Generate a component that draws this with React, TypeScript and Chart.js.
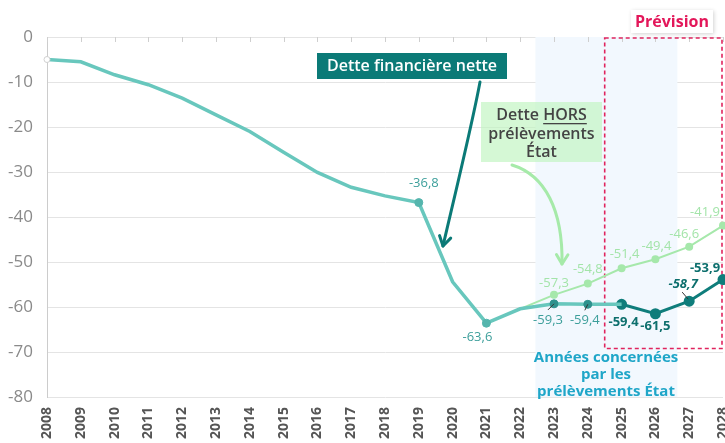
import React, { useEffect, useRef } from "react";
import { Chart, registerables } from "chart.js";

Chart.register(...registerables);

const FONT = "'Open Sans', sans-serif";

// ---- data ----
const years = [2008, 2009, 2010, 2011, 2012, 2013, 2014, 2015, 2016, 2017, 2018, 2019, 2020, 2021, 2022, 2023, 2024, 2025, 2026, 2027, 2028];
const netDebtYears = [2008, 2009, 2010, 2011, 2012, 2013, 2014, 2015, 2016, 2017, 2018, 2019, 2020, 2021, 2022, 2023, 2024, 2025];
const netDebt = [-5, -5.5, -8.4, -10.6, -13.6, -17.3, -21, -25.6, -30.1, -33.4, -35.3, -36.8, -54.4, -63.6, -60.4, -59.3, -59.4, -59.4];
const forecastYears = [2025, 2026, 2027, 2028];
const forecastDebt = [-59.4, -61.5, -58.7, -53.9];
const horsYears = [2022, 2023, 2024, 2025, 2026, 2027, 2028];
const horsDebt = [-60.4, -57.3, -54.8, -51.4, -49.4, -46.6, -41.9];
const yTicks = [0, -10, -20, -30, -40, -50, -60, -70, -80];

// ---- styles ----
const LIGHT_TEAL = "#68c7bd";
const DARK_TEAL = "#0f7d7b";
const GREEN = "#a6e8ab";
const TEAL_TXT = "#3d9f9b";
const DARK_TXT = "#0d6f6d";
const GREEN_TXT = "#a3e4a9";

const fmt = (v: number) => v.toFixed(1).replace(".", ",");

type Spec = { ds: number; year: number; dx: number; dy: number; color: string; font: string; leader?: number[] };
const normal = `13px ${FONT}`;
const bold = `bold 13px ${FONT}`;
const specs: Spec[] = [
  { ds: 0, year: 2019, dx: 5, dy: -19, color: TEAL_TXT, font: normal },
  { ds: 0, year: 2021, dx: -9, dy: 14, color: TEAL_TXT, font: normal },
  { ds: 0, year: 2023, dx: -6, dy: 16, color: TEAL_TXT, font: normal, leader: [0, 0, -6, 6] },
  { ds: 0, year: 2024, dx: -3, dy: 16, color: TEAL_TXT, font: normal, leader: [0, 0, -3, 6] },
  { ds: 1, year: 2025, dx: 2, dy: 18, color: DARK_TXT, font: bold },
  { ds: 1, year: 2026, dx: 0, dy: 13, color: DARK_TXT, font: bold },
  { ds: 1, year: 2027, dx: -6, dy: -17, color: DARK_TXT, font: `italic bold 13px ${FONT}`, leader: [-7, -9, -1, -2] },
  { ds: 1, year: 2028, dx: -18, dy: -11, color: DARK_TXT, font: bold },
  { ds: 2, year: 2023, dx: 0, dy: -12, color: GREEN_TXT, font: normal },
  { ds: 2, year: 2024, dx: 0, dy: -14, color: GREEN_TXT, font: normal },
  { ds: 2, year: 2025, dx: 3, dy: -14, color: GREEN_TXT, font: normal },
  { ds: 2, year: 2026, dx: 1, dy: -13, color: GREEN_TXT, font: normal },
  { ds: 2, year: 2027, dx: -5, dy: -12, color: GREEN_TXT, font: normal },
  { ds: 2, year: 2028, dx: -18, dy: -13, color: GREEN_TXT, font: normal },
];
const dsYears = [netDebtYears, forecastYears, horsYears];
const dsValues = [netDebt, forecastDebt, horsDebt];

function arrow(ctx: CanvasRenderingContext2D, pts: number[], color: string, width: number) {
  const [x0, y0, c1x, c1y, c2x, c2y, x1, y1] = pts;
  ctx.save();
  ctx.strokeStyle = color;
  ctx.lineWidth = width;
  ctx.lineCap = "round";
  ctx.lineJoin = "round";
  ctx.beginPath();
  ctx.moveTo(x0, y0);
  ctx.bezierCurveTo(c1x, c1y, c2x, c2y, x1, y1);
  ctx.stroke();
  const ang = Math.atan2(y1 - c2y, x1 - c2x);
  const L = 11;
  ctx.beginPath();
  ctx.moveTo(x1 + L * Math.cos(ang + Math.PI - 0.55), y1 + L * Math.sin(ang + Math.PI - 0.55));
  ctx.lineTo(x1, y1);
  ctx.lineTo(x1 + L * Math.cos(ang + Math.PI + 0.55), y1 + L * Math.sin(ang + Math.PI + 0.55));
  ctx.stroke();
  ctx.restore();
}

const overlay = {
  id: "overlay",
  beforeDatasetsDraw(chart: any) {
    const { ctx, chartArea: ca, scales } = chart;
    const x = scales.x, y = scales.y;
    ctx.save();
    // shaded years
    const sx0 = x.getPixelForValue(2022.45), sx1 = x.getPixelForValue(2026.65);
    ctx.fillStyle = "#f2f8fe";
    ctx.fillRect(sx0, ca.top, sx1 - sx0, ca.bottom - ca.top);
    // top tick marks
    ctx.strokeStyle = "#cfcfcf";
    ctx.lineWidth = 1;
    years.forEach((yr) => {
      const px = Math.round(x.getPixelForValue(yr)) + 0.5;
      ctx.beginPath();
      ctx.moveTo(px, ca.top);
      ctx.lineTo(px, ca.top + 5);
      ctx.stroke();
    });
    // forecast dashed box
    const bx0 = x.getPixelForValue(2024.5), bx1 = x.getPixelForValue(2028);
    const by0 = y.getPixelForValue(0), by1 = y.getPixelForValue(-69);
    ctx.strokeStyle = "#e0245e";
    ctx.lineWidth = 1.6;
    ctx.setLineDash([4, 3]);
    ctx.strokeRect(bx0, by0 + 1, bx1 - bx0 - 1, by1 - by0);
    ctx.setLineDash([]);
    ctx.restore();
  },
  afterDatasetsDraw(chart: any) {
    const { ctx } = chart;
    ctx.save();
    // data labels
    ctx.textAlign = "center";
    ctx.textBaseline = "middle";
    specs.forEach((s) => {
      const idx = dsYears[s.ds].indexOf(s.year);
      const pt = chart.getDatasetMeta(s.ds).data[idx];
      if (!pt) return;
      if (s.leader) {
        ctx.strokeStyle = "#333";
        ctx.lineWidth = 1;
        ctx.beginPath();
        ctx.moveTo(pt.x + s.leader[0], pt.y + s.leader[1]);
        ctx.lineTo(pt.x + s.leader[2], pt.y + s.leader[3]);
        ctx.stroke();
      }
      ctx.font = s.font;
      ctx.fillStyle = s.color;
      ctx.fillText(fmt(dsValues[s.ds][idx]), pt.x + s.dx, pt.y + s.dy);
    });

    // "Dette financière nette" callout
    arrow(ctx, [480, 82, 472, 125, 456, 190, 443, 246], "#0b7a77", 3);
    ctx.fillStyle = "#0b7a77";
    ctx.fillRect(317, 53, 190, 26);
    ctx.fillStyle = "#ffffff";
    ctx.font = `600 16px ${FONT}`;
    ctx.fillText("Dette financière nette", 412, 66.5);

    // "Dette HORS prélèvements État" callout
    ctx.fillStyle = "rgba(190, 244, 190, 0.65)";
    ctx.fillRect(481, 102, 121, 60);
    ctx.fillStyle = "#444";
    ctx.font = `600 16px ${FONT}`;
    const w1 = ctx.measureText("Dette ").width;
    const w2 = ctx.measureText("HORS").width;
    const startX = 541.5 - (w1 + w2) / 2;
    ctx.textAlign = "left";
    ctx.fillText("Dette ", startX, 115);
    ctx.fillText("HORS", startX + w1, 115);
    ctx.fillRect(startX + w1, 123, w2, 1.3);
    ctx.textAlign = "center";
    ctx.fillText("prélèvements", 541.5, 134);
    ctx.fillText("État", 541.5, 152);
    arrow(ctx, [512, 165, 545, 175, 563, 210, 562, 264], "#a6eaa9", 3);

    // "Années concernées..." text
    ctx.fillStyle = "#1fa6c8";
    ctx.font = `bold 15px ${FONT}`;
    ctx.fillText("Années concernées", 606, 358);
    ctx.fillText("par les", 606, 375);
    ctx.fillText("prélèvements État", 606, 392);

    // "Prévision" tag
    ctx.save();
    ctx.shadowColor = "rgba(0,0,0,0.18)";
    ctx.shadowBlur = 4;
    ctx.shadowOffsetX = 1;
    ctx.shadowOffsetY = 1;
    ctx.fillStyle = "#ffffff";
    ctx.fillRect(631, 10, 82, 23);
    ctx.restore();
    ctx.fillStyle = "#e3175a";
    ctx.font = `bold 16px ${FONT}`;
    ctx.fillText("Prévision", 672, 22);
    ctx.restore();
  },
};

const markedNet = [2019, 2021];
const markedDark = [2023, 2024];

export default function App() {
  const ref = useRef<HTMLCanvasElement>(null);
  useEffect(() => {
    const chart = new Chart(ref.current!, {
      type: "line",
      data: {
        datasets: [
          {
            data: netDebtYears.map((x, i) => ({ x, y: netDebt[i] })),
            borderColor: LIGHT_TEAL,
            borderWidth: 3.5,
            pointRadius: netDebtYears.map((yr) => (yr === 2008 ? 3 : markedNet.includes(yr) || markedDark.includes(yr) ? 4 : 0)),
            pointBackgroundColor: netDebtYears.map((yr) => (yr === 2008 ? "#ffffff" : markedDark.includes(yr) ? "#2e918d" : "#55b5ad")),
            pointBorderColor: netDebtYears.map((yr) => (yr === 2008 ? "#d0d0d0" : markedDark.includes(yr) ? "#2e918d" : "#55b5ad")),
            pointBorderWidth: 1,
            tension: 0,
            clip: false as any,
          },
          {
            data: forecastYears.map((x, i) => ({ x, y: forecastDebt[i] })),
            borderColor: DARK_TEAL,
            borderWidth: 3,
            pointRadius: 4,
            pointBackgroundColor: DARK_TEAL,
            pointBorderColor: DARK_TEAL,
            tension: 0,
            clip: false as any,
          },
          {
            data: horsYears.map((x, i) => ({ x, y: horsDebt[i] })),
            borderColor: GREEN,
            borderWidth: 2,
            pointRadius: horsYears.map((yr) => (yr === 2022 ? 0 : 3)),
            pointBackgroundColor: GREEN,
            pointBorderColor: GREEN,
            tension: 0,
            clip: false as any,
          },
        ],
      },
      options: {
        animation: false,
        responsive: false,
        devicePixelRatio: 1,
        layout: { autoPadding: false, padding: { top: 37, right: 2, left: 0, bottom: 0 } },
        plugins: { legend: { display: false }, tooltip: { enabled: false } },
        scales: {
          x: {
            type: "linear",
            min: 2008,
            max: 2028,
            afterBuildTicks: (s: any) => {
              s.ticks = years.map((v) => ({ value: v }));
            },
            afterFit: (s: any) => {
              s.height = 46;
              s.paddingLeft = 0;
              s.paddingRight = 0;
            },
            grid: { display: false, drawTicks: false },
            border: { display: false },
            ticks: {
              autoSkip: false,
              maxRotation: 90,
              minRotation: 90,
              padding: 10,
              color: "#555555",
              font: { family: FONT, size: 14, weight: "bold" },
              callback: (v: any) => String(v),
            },
          },
          y: {
            min: -80,
            max: 0,
            afterBuildTicks: (s: any) => {
              s.ticks = yTicks.map((v) => ({ value: v }));
            },
            afterFit: (s: any) => {
              s.width = 47;
              s.paddingTop = 0;
              s.paddingBottom = 0;
            },
            grid: { color: "#e4e4e4", drawTicks: false },
            border: { display: true, color: "#cccccc" },
            ticks: {
              padding: 14,
              color: "#8a8a8a",
              font: { family: FONT, size: 17 },
              callback: (v: any) => String(v),
            },
          },
        },
      } as any,
      plugins: [overlay],
    });
    return () => chart.destroy();
  }, []);
  return (
    <div style={{ position: "fixed", left: 0, top: 0, width: 725, height: 443, overflow: "hidden", background: "#fff" }}>
      <canvas ref={ref} width={725} height={443} style={{ display: "block" }} />
    </div>
  );
}
